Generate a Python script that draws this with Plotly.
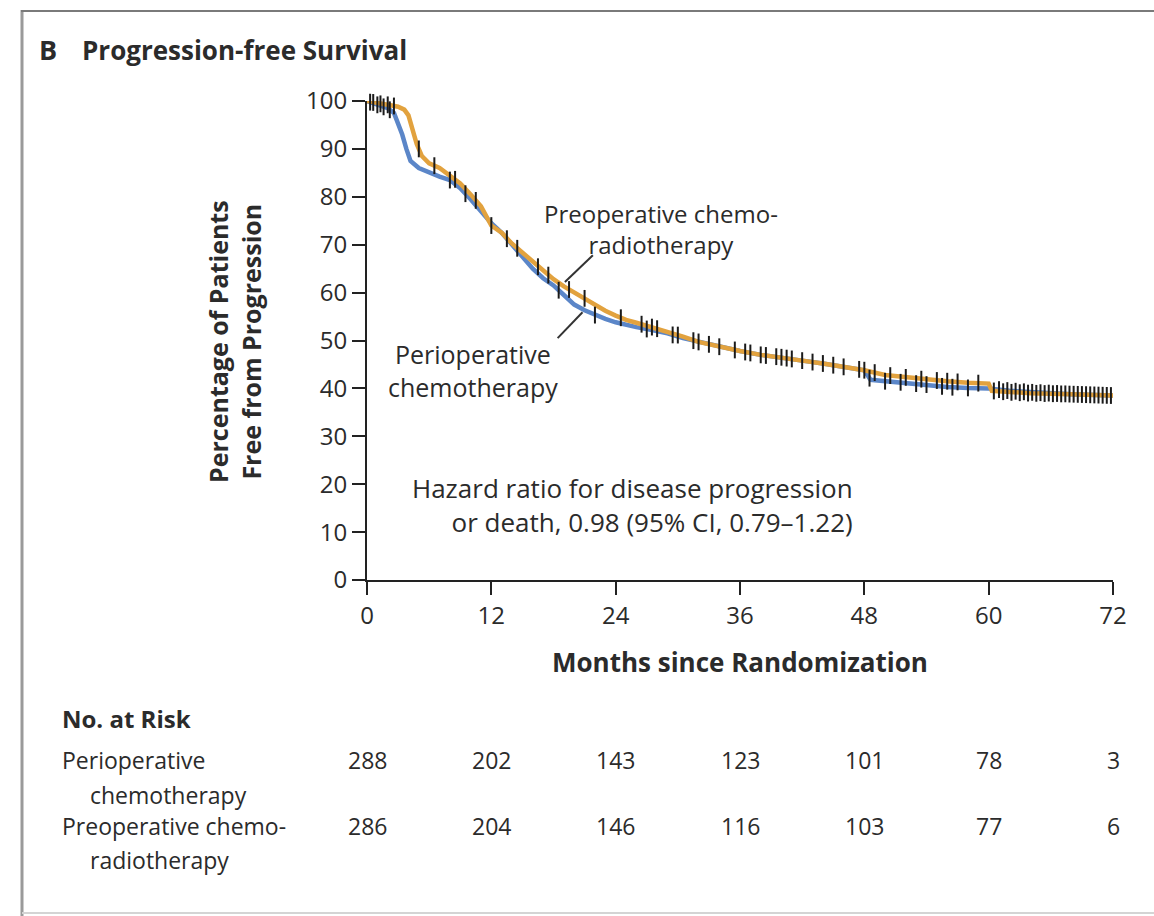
import numpy as np
import plotly.graph_objects as go

# ---------------- data ----------------
peri_months = [0, 1.0, 2.0, 2.6, 3.0, 3.4, 3.8, 4.2, 5.0, 6.0, 7.0, 8.0, 9.0, 10.0, 11.0, 12.0,
               13.0, 14.0, 15.0, 16.0, 17.0, 18.0, 19.0, 20.0, 21.0, 22.0, 23.0, 24.0, 25.0, 26.0,
               27.5, 29.0, 30.5, 32.0, 34.0, 36.0, 38.0, 40.0, 42.0, 44.0, 46.0, 48.0, 48.6, 50.0,
               52.0, 54.0, 56.0, 58.0, 60.0, 62.0, 64.0, 68.0, 72.0]
peri_pct = [100, 99.2, 98.5, 97.5, 95.5, 93, 90, 87.5, 86, 85, 84.2, 83.5, 81.8, 79.5, 77, 74.5,
            72.5, 70, 67.5, 65, 63, 61.5, 59.5, 57.5, 56.3, 55.3, 54.5, 53.8, 53.2, 52.8,
            52.2, 51.5, 50.5, 49.7, 48.7, 47.8, 47, 46.5, 45.8, 45.2, 44.5, 43.8, 41.8, 41.5,
            41.2, 40.8, 40.3, 40.1, 40, 39.5, 39.2, 38.8, 38.5]

preop_months = [0, 1.0, 2.0, 3.0, 3.6, 4.0, 4.4, 4.8, 5.3, 6.0, 7.0, 8.0, 9.0, 10.0, 11.0, 12.0,
                13.0, 14.0, 15.0, 16.0, 17.0, 18.0, 19.0, 20.0, 21.0, 22.0, 23.0, 24.0, 25.0, 26.0,
                27.5, 29.0, 30.5, 32.0, 34.0, 36.0, 38.0, 40.0, 42.0, 44.0, 46.0, 48.0, 50.0, 52.0,
                54.0, 56.0, 58.0, 60.0, 60.3, 62.0, 64.0, 68.0, 72.0]
preop_pct = [100, 99.5, 99.2, 98.8, 98.2, 97, 94, 91, 88.5, 87, 86, 84.5, 82.8, 80.5, 78, 74,
             72.5, 70.2, 68.3, 66.3, 64.5, 62.8, 61.3, 60, 58.8, 57.5, 56.2, 55.2, 54.3, 53.7,
             52.8, 51.8, 50.8, 49.7, 48.7, 47.8, 47, 46.5, 45.8, 45.2, 44.5, 43.8, 42.8, 42.3,
             41.8, 41.5, 41.2, 41, 39.5, 39.2, 39, 38.8, 38.5]

peri_censor = [0.3, 1.0, 1.6, 2.2, 8.0, 9.5, 13.5, 18.5, 22.0, 27.0, 29.5, 31.5, 33.0, 35.5,
               37.0, 38.0, 39.5, 41.0, 43.0, 45.0, 47.5, 48.5, 50.0, 51.5, 53.0, 54.0, 55.5,
               56.5, 58.0, 61.0, 61.8, 62.6, 63.4, 64.2, 65.0, 65.8, 66.6, 67.4, 68.2, 69.0,
               69.8, 70.6, 71.4]
preop_censor = [0.6, 1.3, 2.0, 2.6, 5.0, 6.5, 8.5, 10.5, 12.0, 14.5, 16.5, 17.5, 19.5, 21.0,
                24.5, 26.5, 27.5, 28.0, 30.0, 32.0, 34.0, 36.5, 38.5, 40.0, 40.5, 42.0, 44.0,
                46.0, 48.0, 49.0, 50.5, 52.0, 53.5, 55.0, 56.0, 57.0, 59.0, 60.5, 61.4, 62.2,
                63.0, 63.8, 64.6, 65.4, 66.2, 67.0, 67.8, 68.6, 69.4, 70.2, 71.0, 71.8]

risk_months = [0, 12, 24, 36, 48, 60, 72]
risk_peri = [288, 202, 143, 123, 101, 78, 3]
risk_preop = [286, 204, 146, 116, 103, 77, 6]

x_ticks = [0, 12, 24, 36, 48, 60, 72]
y_ticks = [0, 10, 20, 30, 40, 50, 60, 70, 80, 90, 100]

# ---------------- styling ----------------
W, H = 1154, 916
PX0, PX1 = 367, 1113   # x pixel for 0 and 72 months
PY0, PY1 = 580, 101    # y pixel for 0 % and 100 %
FONT = "Open Sans"
TXT = "#2b2b2b"
BLUE = "#5b86c8"
ORANGE = "#e2a23e"
INK = "#1a1a1a"


def fx(px):
    return (px - PX0) / (PX1 - PX0)


def fy(py):
    return (PY0 - py) / (PY0 - PY1)


def curve_at(times, vals, t):
    return np.interp(t, np.asarray(times), np.asarray(vals))


fig = go.Figure()

fig.add_trace(go.Scatter(x=peri_months, y=peri_pct, mode="lines",
                         line=dict(color=BLUE, width=4.5), cliponaxis=False,
                         showlegend=False, hoverinfo="skip"))
fig.add_trace(go.Scatter(x=preop_months, y=preop_pct, mode="lines",
                         line=dict(color=ORANGE, width=4.5), cliponaxis=False,
                         showlegend=False, hoverinfo="skip"))

for cens, (tm, pv) in ((peri_censor, (peri_months, peri_pct)),
                       (preop_censor, (preop_months, preop_pct))):
    fig.add_trace(go.Scatter(x=cens, y=curve_at(tm, pv, cens), mode="markers",
                             marker=dict(symbol="line-ns-open", size=12, color=INK,
                                         line=dict(color=INK, width=2)),
                             cliponaxis=False, showlegend=False, hoverinfo="skip"))

fig.update_xaxes(range=[0, 72], tickvals=x_ticks, ticktext=[str(v) for v in x_ticks],
                 showgrid=False, zeroline=False, showline=True, linecolor="#222",
                 linewidth=2, ticks="outside", ticklen=13, tickwidth=2, tickcolor="#222",
                 tickfont=dict(family=FONT, size=24, color=TXT))
fig.update_yaxes(range=[0, 100], tickvals=y_ticks, ticktext=[str(v) for v in y_ticks],
                 showgrid=False, zeroline=False, showline=True, linecolor="#222",
                 linewidth=2, ticks="outside", ticklen=13, tickwidth=2, tickcolor="#222",
                 tickfont=dict(family=FONT, size=24, color=TXT))

ann = []


def text(x, y, s, size=25, bold=False, xanchor="left", xref="paper", angle=0, align="left"):
    if bold:
        s = "<b>" + s + "</b>"
    ann.append(dict(x=x, y=y, xref=xref, yref="paper", text=s, showarrow=False,
                    xanchor=xanchor, yanchor="middle", textangle=angle, align=align,
                    font=dict(family=FONT, size=size, color=TXT)))


# title
text(fx(37), fy(50), "B", size=27, bold=True)
text(fx(80), fy(50), "Progression-free Survival", size=26, bold=True)

# y axis title (two lines, rotated)
text(fx(234), fy(342), "Percentage of Patients<br>Free from Progression", size=25,
     bold=True, xanchor="center", angle=-90, align="center")

# x axis title
text(fx(740), fy(662), "Months since Randomization", size=26, bold=True, xanchor="center")

# curve labels
text(fx(661), fy(229), "Preoperative chemo-<br>radiotherapy", size=24, xanchor="center",
     align="center")
text(fx(473), fy(370), "Perioperative<br>chemotherapy", size=25, xanchor="center",
     align="center")
text(fx(855), fy(505), "Hazard ratio for disease progression<br>or death, 0.98 (95% CI, 0.79\u20131.22)",
     size=26, xanchor="right", align="right")

# risk table
text(fx(60), fy(718), "No. at Risk", size=24, bold=True)
text(fx(60), fy(760), "Perioperative", size=23)
text(fx(88), fy(795), "chemotherapy", size=23)
text(fx(60), fy(826), "Preoperative chemo-", size=23)
text(fx(88), fy(860), "radiotherapy", size=23)
for m, a, b in zip(risk_months, risk_peri, risk_preop):
    text(m, fy(760), str(a), size=23, xanchor="center", xref="x")
    text(m, fy(826), str(b), size=23, xanchor="center", xref="x")

shapes = [
    # leader lines
    dict(type="line", xref="x", yref="y", x0=19.1, y0=62.2, x1=21.8, y1=67.8,
         line=dict(color="#333", width=2)),
    dict(type="line", xref="x", yref="y", x0=18.4, y0=50.5, x1=20.8, y1=55.9,
         line=dict(color="#333", width=2)),
    # frame
    dict(type="line", xref="paper", yref="paper", x0=fx(22), y0=fy(10), x1=fx(22), y1=fy(916),
         line=dict(color="#9a9a9a", width=3)),
    dict(type="line", xref="paper", yref="paper", x0=fx(21), y0=fy(11), x1=fx(1154), y1=fy(11),
         line=dict(color="#7a7a7a", width=2)),
    dict(type="line", xref="paper", yref="paper", x0=fx(22), y0=fy(913), x1=fx(1154), y1=fy(913),
         line=dict(color="#d4d4d4", width=2)),
]

fig.update_layout(width=W, height=H, autosize=False,
                  margin=dict(l=PX0, r=W - PX1, t=PY1, b=H - PY0, pad=0),
                  paper_bgcolor="white", plot_bgcolor="white",
                  annotations=ann, shapes=shapes, showlegend=False)

fig.write_html("out.html")
